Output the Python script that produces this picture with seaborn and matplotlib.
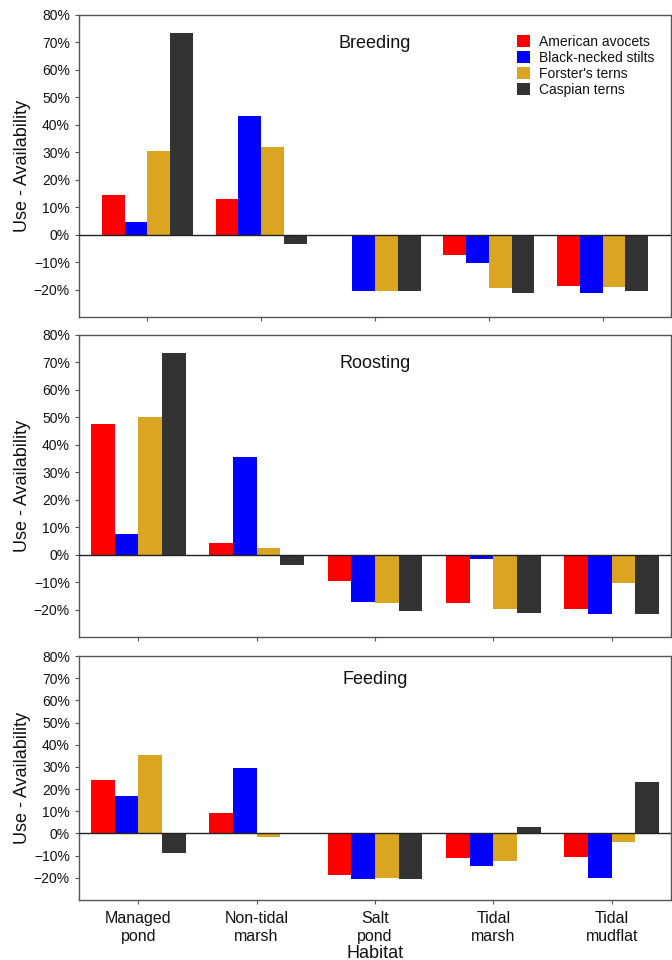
import pandas as pd
import seaborn as sns
import matplotlib.pyplot as plt
from matplotlib.ticker import PercentFormatter

habitats = ["Managed\npond", "Non-tidal\nmarsh", "Salt\npond", "Tidal\nmarsh", "Tidal\nmudflat"]
species = ["American avocets", "Black-necked stilts", "Forster's terns", "Caspian terns"]
colors = ["#FF0000", "#0000FF", "#DAA520", "#333333"]

# Use - Availability (%), one list per species, ordered by habitat
breeding = {
    "American avocets":    [14.3, 13.1, 0.0, -7.3, -18.7],
    "Black-necked stilts": [4.7, 43.2, -20.4, -10.3, -21.3],
    "Forster's terns":     [30.5, 32.0, -20.4, -19.6, -19.2],
    "Caspian terns":       [73.5, -3.4, -20.4, -21.1, -20.6],
}
roosting = {
    "American avocets":    [47.5, 4.1, -9.7, -17.5, -19.8],
    "Black-necked stilts": [7.4, 35.5, -17.2, -1.6, -21.5],
    "Forster's terns":     [50.3, 2.3, -17.7, -19.8, -10.4],
    "Caspian terns":       [73.3, -3.8, -20.5, -21.2, -21.5],
}
feeding = {
    "American avocets":    [24.3, 9.2, -18.6, -11.1, -10.8],
    "Black-necked stilts": [16.7, 29.3, -20.6, -14.6, -20.3],
    "Forster's terns":     [35.3, -1.5, -20.0, -12.2, -3.8],
    "Caspian terns":       [-8.7, 0.0, -20.6, 2.7, 23.1],
}

panels = [("Breeding", breeding), ("Roosting", roosting), ("Feeding", feeding)]

sns.set_style("ticks")
plt.rcParams["font.family"] = ["Liberation Sans", "DejaVu Sans"]
plt.rcParams["text.color"] = "#111111"
plt.rcParams["axes.labelcolor"] = "#111111"

fig = plt.figure(figsize=(6.72, 9.6), dpi=100)
W, H = 672, 960
boxes = [(15, 317, 0.6), (335, 637, 0.5), (656, 900, 0.5)]

for i, ((name, vals), (top, bot, pad)) in enumerate(zip(panels, boxes)):
    ax = fig.add_axes([79 / W, 1 - bot / H, 592 / W, (bot - top) / H])
    rows = []
    for sp in species:
        for hab, v in zip(habitats, vals[sp]):
            rows.append({"Habitat": hab, "Species": sp, "value": v / 100})
    df = pd.DataFrame(rows)
    sns.barplot(data=df, x="Habitat", y="value", hue="Species", order=habitats,
                hue_order=species, palette=colors, width=0.8, linewidth=0,
                saturation=1, errorbar=None, ax=ax, legend=(i == 0))
    ax.axhline(0, color="#222222", lw=1, zorder=3)
    ax.set_ylim(-0.30, 0.80)
    ax.set_xlim(-pad, 4 + pad)
    ax.set_yticks([i / 10 for i in range(-2, 9)])
    ax.yaxis.set_major_formatter(PercentFormatter(1.0, decimals=0))
    ax.tick_params(axis="both", length=3, width=0.8, color="#555555",
                   labelsize=10, labelcolor="#111111")
    ax.tick_params(axis="x", labelsize=11.5, pad=5)
    for s in ax.spines.values():
        s.set_visible(True)
        s.set_color("#555555")
        s.set_linewidth(1)
    ax.set_ylabel("Use - Availability", fontsize=13, labelpad=2)
    ax.text(2, 0.905, name, transform=ax.get_xaxis_transform(), ha="center",
            va="center", fontsize=13)
    if i < 2:
        ax.set_xlabel("")
        ax.set_xticklabels([])
    else:
        ax.set_xlabel("Habitat", fontsize=13, labelpad=1)
    if i == 0:
        ax.legend(title=None, loc="upper left", bbox_to_anchor=(0.74, 0.935),
                  frameon=False, fontsize=10, handlelength=0.95, handleheight=0.95,
                  handletextpad=0.6, labelspacing=0.15, borderpad=0, borderaxespad=0)

fig.savefig("out.png", dpi=100)
